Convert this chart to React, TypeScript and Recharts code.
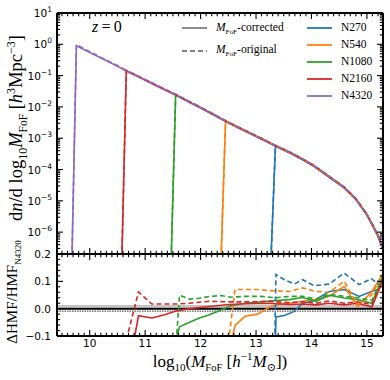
import React from 'react';
import { LineChart, Line, XAxis, YAxis, ReferenceLine, ReferenceArea } from 'recharts';

const seriesNames = ['N270', 'N540', 'N1080', 'N2160', 'N4320'];
const seriesColors = ['#1f77b4', '#ff7f0e', '#2ca02c', '#d62728', '#9467bd'];

// ---- top panel: halo mass function ----
const massGrid = [9.76, 10.0, 10.25, 10.5, 10.66, 10.88, 11.12, 11.35, 11.55, 11.8, 12.0, 12.2, 12.45, 12.7, 12.95, 13.15, 13.35, 13.6, 13.84, 14.05, 14.32, 14.59, 14.8, 15.0, 15.1, 15.2, 15.28];
const hmfCorrected = [0.891, 0.55, 0.331, 0.2, 0.141, 0.0912, 0.0562, 0.0355, 0.024, 0.0141, 0.00933, 0.00603, 0.00347, 0.00209, 0.00126, 8.51e-4, 5.62e-4, 3.47e-4, 2.09e-4, 1.26e-4, 5.75e-5, 2.63e-5, 1.12e-5, 3.55e-6, 1.66e-6, 7.59e-7, 3.16e-7];
const hmfOriginal = [0.98, 0.58, 0.345, 0.209, 0.148, 0.0955, 0.0588, 0.0371, 0.0251, 0.0147, 0.00975, 0.0063, 0.00362, 0.00218, 0.00132, 8.9e-4, 5.88e-4, 3.63e-4, 2.19e-4, 1.32e-4, 6.0e-5, 2.75e-5, 1.17e-5, 3.7e-6, 1.73e-6, 7.9e-7, 3.3e-7];
const seriesStartMass = [13.35, 12.45, 11.55, 10.66, 9.76];
const seriesCutMass = [13.27, 12.37, 11.47, 10.58, 9.68];
const cutDensity = 1.5e-7;

// ---- bottom panel: ratio to N4320 ----
const ratioMassN270 = [13.3, 13.36, 13.51, 13.69, 13.84, 14.05, 14.32, 14.59, 14.86, 15.08, 15.2, 15.28];
const ratioCorrN270 = [-0.5, -0.03, -0.025, -0.01, 0.02, 0.03, 0.063, 0.07, 0.045, 0.063, 0.07, 0.1];
const ratioOrigN270 = [-0.5, 0.125, 0.106, 0.09, 0.106, 0.084, 0.09, 0.13, 0.088, 0.11, 0.09, 0.113];

const ratioMassN540 = [12.45, 12.62, 12.8, 13.03, 13.24, 13.45, 13.6, 13.84, 14.08, 14.32, 14.59, 14.83, 15.09, 15.28];
const ratioCorrN540 = [-0.23, -0.062, -0.028, -0.02, 0.005, 0.018, 0.02, 0.027, 0.033, 0.045, 0.082, 0.008, 0.063, 0.125];
const ratioOrigN540 = [-0.21, 0.07, 0.07, 0.07, 0.066, 0.064, 0.063, 0.076, 0.063, 0.06, 0.1, 0.015, 0.051, 0.125];

const ratioMassN1080 = [11.55, 11.62, 11.8, 11.98, 12.16, 12.37, 12.53, 12.8, 13.1, 13.35, 13.6, 13.84, 14.08, 14.32, 14.59, 14.83, 15.09, 15.28];
const ratioCorrN1080 = [-0.12, -0.066, -0.05, -0.034, -0.022, -0.005, 0.01, 0.02, 0.025, 0.03, 0.033, 0.041, 0.027, 0.049, 0.039, 0.033, 0.02, 0.113];
const ratioOrigN1080 = [-0.15, 0.049, 0.035, 0.038, 0.045, 0.048, 0.042, 0.045, 0.045, 0.04, 0.045, 0.045, 0.035, 0.052, 0.045, 0.04, 0.03, 0.115];

const ratioMassN2160 = [10.66, 10.88, 11.12, 11.35, 11.57, 11.8, 12.16, 12.5, 12.85, 13.2, 13.6, 13.84, 14.08, 14.32, 14.59, 14.83, 15.09, 15.28];
const ratioCorrN2160 = [-0.27, -0.026, -0.034, -0.022, -0.008, 0.0, 0.008, 0.015, 0.018, 0.02, 0.015, 0.017, 0.014, 0.02, 0.014, 0.02, 0.006, 0.1];
const ratioOrigN2160 = [-0.114, 0.061, 0.017, 0.017, 0.017, 0.02, 0.027, 0.025, 0.025, 0.027, 0.022, 0.025, 0.02, 0.028, 0.02, 0.025, 0.015, 0.1];

const ratioSeries = [
  { name: 'N270', mass: ratioMassN270, corr: ratioCorrN270, orig: ratioOrigN270 },
  { name: 'N540', mass: ratioMassN540, corr: ratioCorrN540, orig: ratioOrigN540 },
  { name: 'N1080', mass: ratioMassN1080, corr: ratioCorrN1080, orig: ratioOrigN1080 },
  { name: 'N2160', mass: ratioMassN2160, corr: ratioCorrN2160, orig: ratioOrigN2160 },
];

const xMajorTicks = [10, 11, 12, 13, 14, 15];
const ratioMajorTicks = [-0.1, 0.0, 0.1, 0.2];

const X_DOMAIN: [number, number] = [9.41, 15.29];
const Y_DOMAIN: [number, number] = [2e-7, 10];
const R_DOMAIN: [number, number] = [-0.1, 0.2];

// axis tick positions (minor + major)
const xTicks: number[] = [];
for (let i = 95; i <= 152; i++) xTicks.push(i / 10);
const logTicks: number[] = [];
for (let e = -7; e <= 1; e++) {
  for (let k = 1; k <= 9; k++) {
    const v = k * Math.pow(10, e);
    if (v >= Y_DOMAIN[0] * 0.999 && v <= Y_DOMAIN[1] * 1.001) logTicks.push(v);
  }
}
const ratioTicks: number[] = [];
for (let i = -5; i <= 10; i++) ratioTicks.push(Math.round(i * 2) / 100);

const topData = seriesNames.map((_, i) => {
  const s = massGrid.findIndex((m) => Math.abs(m - seriesStartMass[i]) < 1e-6);
  const head = { m: seriesCutMass[i], c: cutDensity, o: cutDensity };
  return [head, ...massGrid.slice(s).map((m, j) => ({ m, c: hmfCorrected[s + j], o: hmfOriginal[s + j] }))];
});

const ratioData = ratioSeries.map((r) => r.mass.map((m, j) => ({ m, c: r.corr[j], o: r.orig[j] })));

const MAJ = 6;
const MIN = 3.2;
const TW = 1.1;
const tickFont = '"DejaVu Sans", sans-serif';
const near = (a: number, b: number) => Math.abs(a - b) < 1e-6;
const isXMajor = (v: number) => xMajorTicks.some((t) => near(t, v));
const isLogMajor = (v: number) => near(Math.log10(v), Math.round(Math.log10(v)));
const isRatioMajor = (v: number) => ratioMajorTicks.some((t) => near(t, v));

const makeXTick = (side: 'top' | 'bottom', label: boolean) => (p: any) => {
  const v = p.payload.value;
  const major = isXMajor(v);
  const len = major ? MAJ : MIN;
  const dir = side === 'bottom' ? -1 : 1;
  return (
    <g>
      <line x1={p.x} x2={p.x} y1={p.y} y2={p.y + dir * len} stroke="#000" strokeWidth={TW} />
      {label && major ? (
        <text x={p.x} y={p.y + 11} textAnchor="middle" fontSize={10.5} fontFamily={tickFont} fill="#000">
          {String(v)}
        </text>
      ) : null}
    </g>
  );
};

const makeYTick = (side: 'left' | 'right', kind: 'log' | 'ratio', label: boolean) => (p: any) => {
  const v = p.payload.value;
  const major = kind === 'log' ? isLogMajor(v) : isRatioMajor(v);
  const len = major ? MAJ : MIN;
  const dir = side === 'left' ? 1 : -1;
  let lab: React.ReactNode = null;
  if (label && major) {
    if (kind === 'log') {
      const e = Math.round(Math.log10(v));
      lab = (
        <text x={p.x - 5} y={p.y + 4} textAnchor="end" fontSize={10.5} fontFamily={tickFont} fill="#000">
          <tspan>10</tspan>
          <tspan dy={-5} fontSize={7.5}>{e < 0 ? '\u2212' + Math.abs(e) : String(e)}</tspan>
        </text>
      );
    } else {
      const s = v < 0 ? '\u2212' + Math.abs(v).toFixed(1) : v.toFixed(1);
      lab = (
        <text x={p.x - 6} y={p.y + 4} textAnchor="end" fontSize={10.5} fontFamily={tickFont} fill="#000">
          {s}
        </text>
      );
    }
  }
  return (
    <g>
      <line x1={p.x} x2={p.x + dir * len} y1={p.y} y2={p.y} stroke="#000" strokeWidth={TW} />
      {lab}
    </g>
  );
};

const frame = { stroke: '#000', strokeWidth: 2 };
const serif = '"Liberation Serif", "DejaVu Serif", serif';

const MF = () => (
  <span>
    <i>M</i>
    <sub style={{ fontSize: '0.62em', fontStyle: 'normal' }}>FoF</sub>
  </span>
);

const legendLine = (color: string, dashed: boolean) => (
  <svg width={25} height={6} style={{ verticalAlign: 'middle' }}>
    <line x1={0} x2={25} y1={3} y2={3} stroke={color} strokeWidth={1.8} strokeDasharray={dashed ? '5 3' : undefined} />
  </svg>
);

export default function App() {
  return (
    <div style={{ position: 'absolute', left: 0, top: 0, width: 390, height: 380, background: '#fff', fontFamily: serif }}>
      {/* top panel */}
      <div style={{ position: 'absolute', left: 0, top: 0 }}>
        <LineChart width={390} height={256} margin={{ top: 12, right: 6, bottom: 1, left: 0 }}>
          <XAxis xAxisId="b" dataKey="m" type="number" domain={X_DOMAIN} allowDataOverflow ticks={xTicks} interval={0}
            height={1} tickSize={0} tickMargin={0} tickLine={false} axisLine={frame} tick={makeXTick('bottom', false)} />
          <XAxis xAxisId="t" orientation="top" dataKey="m" type="number" domain={X_DOMAIN} allowDataOverflow ticks={xTicks} interval={0}
            height={1} tickSize={0} tickMargin={0} tickLine={false} axisLine={frame} tick={makeXTick('top', false)} />
          <YAxis yAxisId="l" type="number" scale="log" domain={Y_DOMAIN} allowDataOverflow ticks={logTicks} interval={0}
            width={57} tickSize={0} tickMargin={0} tickLine={false} axisLine={frame} tick={makeYTick('left', 'log', true)} />
          <YAxis yAxisId="r" orientation="right" type="number" scale="log" domain={Y_DOMAIN} allowDataOverflow ticks={logTicks} interval={0}
            width={1} tickSize={0} tickMargin={0} tickLine={false} axisLine={frame} tick={makeYTick('right', 'log', false)} />
          {topData.map((d, i) => (
            <Line key={'c' + i} xAxisId="b" yAxisId="l" data={d} dataKey="c" type="linear" stroke={seriesColors[i]}
              strokeWidth={1.6} dot={false} isAnimationActive={false} />
          ))}
          {topData.map((d, i) => (
            <Line key={'o' + i} xAxisId="b" yAxisId="l" data={d} dataKey="o" type="linear" stroke={seriesColors[i]}
              strokeWidth={1.6} strokeDasharray="5 3" dot={false} isAnimationActive={false} />
          ))}
        </LineChart>
      </div>

      {/* bottom panel */}
      <div style={{ position: 'absolute', left: 0, top: 240 }}>
        <LineChart width={390} height={129} margin={{ top: 13, right: 6, bottom: 0, left: 0 }}>
          <XAxis xAxisId="b" dataKey="m" type="number" domain={X_DOMAIN} allowDataOverflow ticks={xTicks} interval={0}
            height={33} tickSize={0} tickMargin={0} tickLine={false} axisLine={frame} tick={makeXTick('bottom', true)} />
          <XAxis xAxisId="t" orientation="top" dataKey="m" type="number" domain={X_DOMAIN} allowDataOverflow ticks={xTicks} interval={0}
            height={1} tickSize={0} tickMargin={0} tickLine={false} axisLine={frame} tick={makeXTick('top', false)} />
          <YAxis yAxisId="l" type="number" domain={R_DOMAIN} allowDataOverflow ticks={ratioTicks} interval={0}
            width={57} tickSize={0} tickMargin={0} tickLine={false} axisLine={frame} tick={makeYTick('left', 'ratio', true)} />
          <YAxis yAxisId="r" orientation="right" type="number" domain={R_DOMAIN} allowDataOverflow ticks={ratioTicks} interval={0}
            width={1} tickSize={0} tickMargin={0} tickLine={false} axisLine={frame} tick={makeYTick('right', 'ratio', false)} />
          <ReferenceArea xAxisId="b" yAxisId="l" y1={0.004} y2={0.013} fill="#c4c4c4" fillOpacity={1} stroke="none" />
          <ReferenceLine xAxisId="b" yAxisId="l" y={-0.009} stroke="#333" strokeWidth={1} strokeDasharray="1.5 1" />
          <ReferenceLine xAxisId="b" yAxisId="l" y={0} stroke="#000" strokeWidth={2} />
          {ratioData.map((d, i) => (
            <Line key={'rc' + i} xAxisId="b" yAxisId="l" data={d} dataKey="c" type="linear" stroke={seriesColors[i]}
              strokeWidth={1.6} dot={false} isAnimationActive={false} />
          ))}
          {ratioData.map((d, i) => (
            <Line key={'ro' + i} xAxisId="b" yAxisId="l" data={d} dataKey="o" type="linear" stroke={seriesColors[i]}
              strokeWidth={1.6} strokeDasharray="5 3" dot={false} isAnimationActive={false} />
          ))}
        </LineChart>
      </div>

      {/* annotation */}
      <div style={{ position: 'absolute', left: 92, top: 17, fontSize: 16, lineHeight: '20px' }}>
        <i>z</i>&thinsp;=&thinsp;0
      </div>

      {/* legend 1 */}
      <div style={{ position: 'absolute', left: 182, top: 19, fontSize: 11.5, lineHeight: '17px', whiteSpace: 'nowrap' }}>
        <div>{legendLine('#808080', false)}<span style={{ marginLeft: 9 }}><MF />-corrected</span></div>
        <div>{legendLine('#808080', true)}<span style={{ marginLeft: 9 }}><MF />-original</span></div>
      </div>

      {/* legend 2 */}
      <div style={{ position: 'absolute', left: 307, top: 19, fontSize: 11.5, lineHeight: '17px', whiteSpace: 'nowrap' }}>
        {seriesNames.map((n, i) => (
          <div key={n}>{legendLine(seriesColors[i], false)}<span style={{ marginLeft: 9 }}>{n}</span></div>
        ))}
      </div>

      {/* y label top */}
      <div style={{ position: 'absolute', left: 17, top: 128, width: 0, height: 0 }}>
        <div style={{ position: 'absolute', transform: 'translate(-50%, -50%) rotate(-90deg)', fontSize: 18.5, whiteSpace: 'nowrap', lineHeight: '22px' }}>
          d<i>n</i>/d log<sub style={{ fontSize: '0.65em' }}>10</sub><MF /> [<i>h</i><sup style={{ fontSize: '0.65em' }}>3</sup>Mpc<sup style={{ fontSize: '0.65em' }}>{'\u22123'}</sup>]
        </div>
      </div>

      {/* y label bottom */}
      <div style={{ position: 'absolute', left: 15, top: 292, width: 0, height: 0 }}>
        <div style={{ position: 'absolute', transform: 'translate(-50%, -50%) rotate(-90deg)', fontSize: 15, whiteSpace: 'nowrap', lineHeight: '20px' }}>
          ΔHMF/HMF<sub style={{ fontSize: '0.6em' }}>N4320</sub>
        </div>
      </div>

      {/* x label */}
      <div style={{ position: 'absolute', left: 220, top: 362, width: 0, height: 0 }}>
        <div style={{ position: 'absolute', transform: 'translate(-50%, -50%)', fontSize: 17, whiteSpace: 'nowrap', lineHeight: '20px' }}>
          log<sub style={{ fontSize: '0.65em' }}>10</sub>(<MF /> [<i>h</i><sup style={{ fontSize: '0.65em' }}>{'\u22121'}</sup><i>M</i><sub style={{ fontSize: '0.65em' }}>⊙</sub>])
        </div>
      </div>
    </div>
  );
}
